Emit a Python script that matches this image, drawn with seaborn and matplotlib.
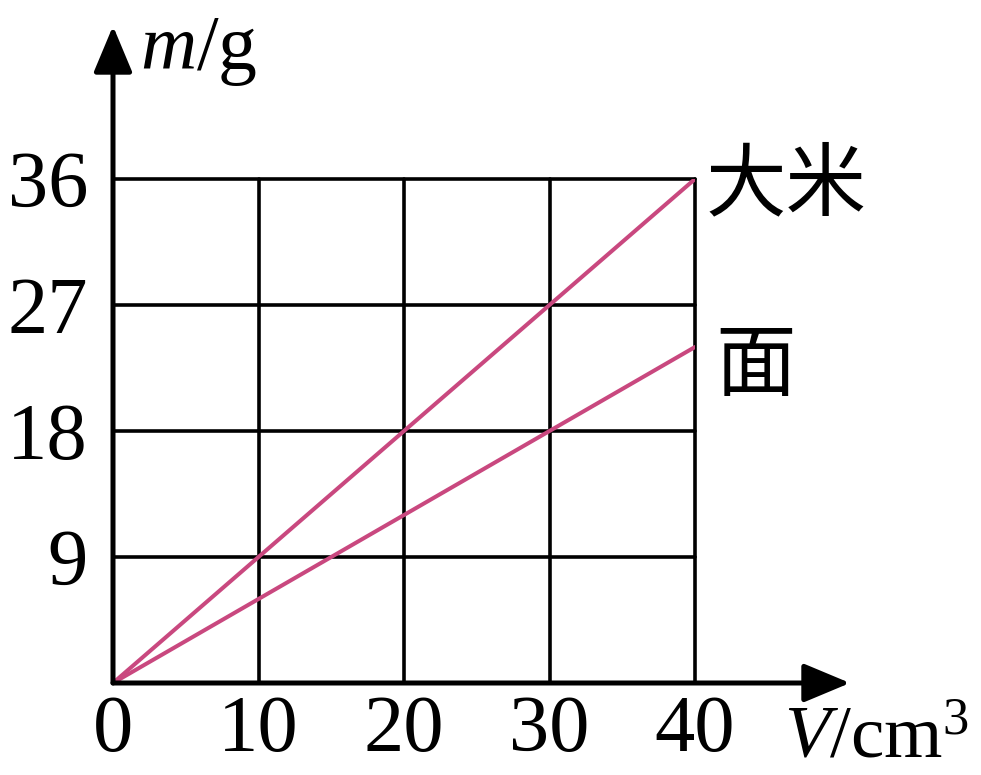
import matplotlib
matplotlib.use("Agg")
import matplotlib.pyplot as plt
import seaborn as sns
import pandas as pd

# Data
volume = [0, 10, 20, 30, 40]          # V / cm^3
rice_mass = [0, 9, 18, 27, 36]        # 大米 m / g
flour_mass = [0, 6, 12, 18, 24]       # 面 m / g
x_ticks = [0, 10, 20, 30, 40]
y_ticks = [9, 18, 27, 36]
series_names = ["大米", "面"]

sns.set_theme(style="white")
plt.rcParams['font.family'] = ['Liberation Serif', 'Noto Sans CJK SC', 'DejaVu Sans']
plt.rcParams['text.color'] = 'black'
plt.rcParams['mathtext.fontset'] = 'custom'
plt.rcParams['mathtext.rm'] = 'Liberation Serif'
plt.rcParams['mathtext.it'] = 'Liberation Serif:italic'

df = pd.DataFrame({
    "V": volume * 2,
    "m": rice_mass + flour_mass,
    "s": [series_names[0]] * len(volume) + [series_names[1]] * len(volume),
})

fig = plt.figure(figsize=(9.81, 7.75), dpi=100)
W, H = 981, 775
ox, oy = 113, 683
px40, py36 = 695, 179
ax = fig.add_axes([ox / W, (H - oy) / H, (px40 - ox) / W, (oy - py36) / H])

line_color = '#C9487F'
sns.lineplot(data=df, x="V", y="m", hue="s", palette=[line_color, line_color],
             ax=ax, legend=False, linewidth=2.9, solid_capstyle='round')

ax.set_xlim(0, 40)
ax.set_ylim(0, 36)
for s in ax.spines.values():
    s.set_visible(False)
ax.set_xlabel("")
ax.set_ylabel("")

# grid
for xv in x_ticks[1:]:
    ax.axvline(xv, color='black', lw=2.6, zorder=1, clip_on=False)
for yv in y_ticks:
    ax.axhline(yv, color='black', lw=2.6, zorder=1, clip_on=False)

ax.set_xticks(x_ticks)
ax.set_xticklabels([str(v) for v in x_ticks])
ax.set_yticks(y_ticks)
ax.set_yticklabels([str(v) for v in y_ticks])
ax.tick_params(axis='both', length=0, labelsize=58, colors='black')
ax.tick_params(axis='x', pad=9)
ax.tick_params(axis='y', pad=18)
for lab in ax.get_xticklabels() + ax.get_yticklabels():
    lab.set_fontfamily('Liberation Serif')
    lab.set_color('black')

# axes arrows
xs = 40 / (px40 - ox)
ys = 36 / (oy - py36)
arrow_kw = dict(arrowstyle='-|>,head_length=0.55,head_width=0.23', lw=3.6,
                color='black', mutation_scale=52, shrinkA=0, shrinkB=0)
ax.annotate('', xy=((850 - ox) * xs, 0), xytext=(0, 0), arrowprops=arrow_kw,
            annotation_clip=False, zorder=5)
ax.annotate('', xy=(0, (oy - 26) * ys), xytext=(0, 0), arrowprops=arrow_kw,
            annotation_clip=False, zorder=5)


def ptext(x, y, s, **kw):
    fig.text(x / W, 1 - y / H, s, ha='left', va='baseline', color='black', **kw)


# axis labels
ptext(140, 69, r'$\mathit{m}$/g', fontsize=56)
ptext(784, 758, r'$\mathit{V}$/cm$^{3}$', fontsize=54)

# series labels
ax.text((706 - ox) * xs, (oy - 186) * ys, series_names[0], fontsize=58,
        family=['Noto Sans CJK SC'], ha='left', va='center', clip_on=False,
        color='black')
ax.text((715 - ox) * xs, (oy - 367) * ys, series_names[1], fontsize=58,
        family=['Noto Sans CJK SC'], ha='left', va='center', clip_on=False,
        color='black')

fig.savefig('out.png', dpi=100)
